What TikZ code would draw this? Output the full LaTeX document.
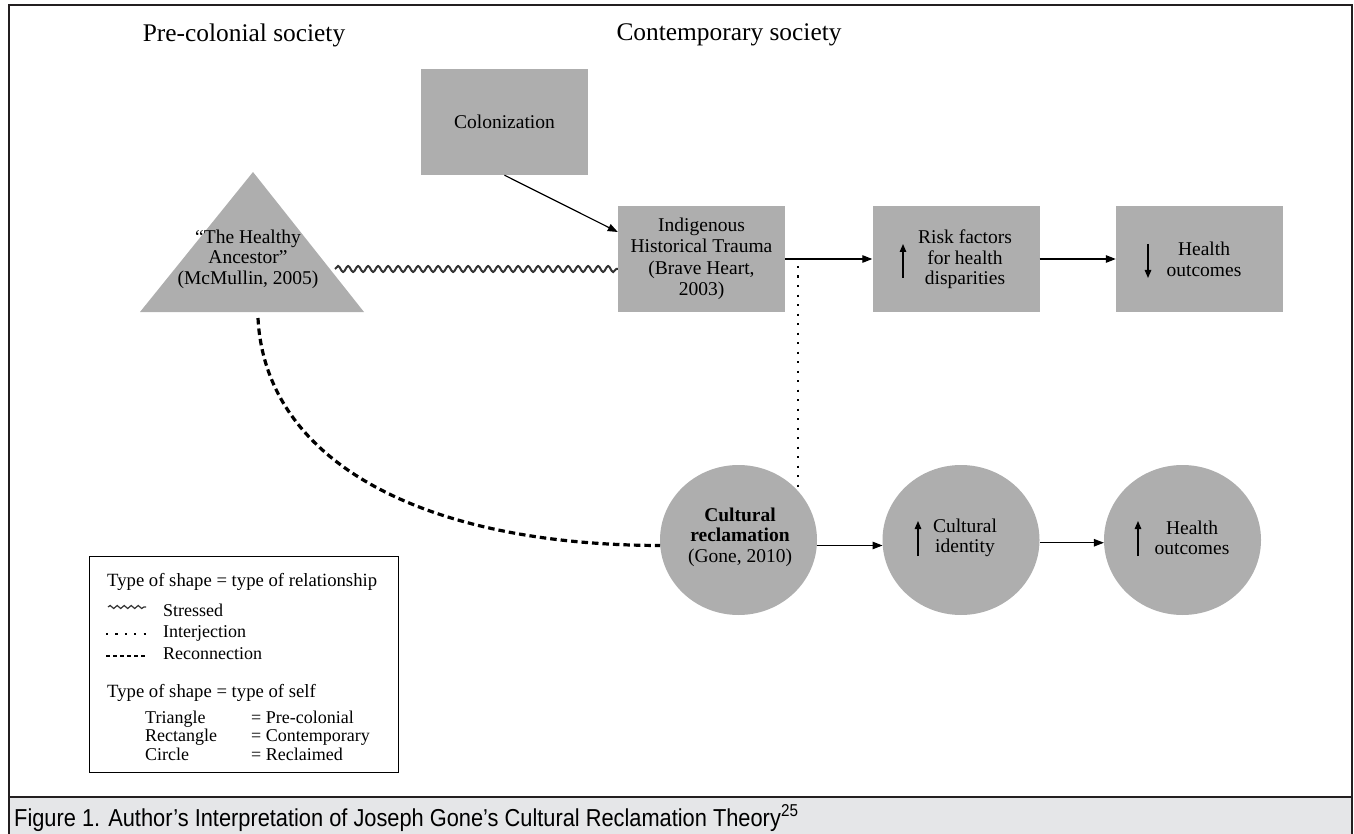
\documentclass[tikz,border=0pt]{standalone}
\usepackage{fontspec}
\setmainfont{Liberation Serif}
\newfontfamily\capfont[FakeStretch=0.89]{Liberation Sans}
\usetikzlibrary{arrows.meta,decorations.pathmorphing,calc,shapes.geometric}
\definecolor{shapegray}{RGB}{174,174,174}
\definecolor{framecol}{RGB}{35,31,32}
\definecolor{capbg}{RGB}{229,230,232}
\begin{document}
\begin{tikzpicture}[x=1pt,y=-1pt,
  box/.style={fill=shapegray, minimum width=167pt, minimum height=106pt, inner sep=0pt,
    font=\fontsize{19.5}{21.5}\selectfont, align=center},
  oval/.style={ellipse, fill=shapegray, minimum width=157pt, minimum height=150pt, inner sep=0pt},
  lbl/.style={font=\fontsize{19.5}{20.5}\selectfont, align=center, inner sep=0pt},
  head/.style={font=\fontsize{25.4}{28}\selectfont, inner sep=0pt},
  legt/.style={font=\fontsize{18.7}{20}\selectfont, inner sep=0pt, anchor=base west},
  lege/.style={font=\fontsize{18}{19}\selectfont, inner sep=0pt, anchor=base west},
  arr/.style={-{Triangle[length=10pt,width=7.5pt]}, line width=1.2pt},
  uparr/.style={-{Triangle[length=8pt,width=6.5pt]}, line width=1.2pt},
  wavy/.style={decorate, decoration={snake, segment length=10pt, amplitude=3pt}, line width=2pt, draw=black!80},
  dotline/.style={line width=2.2pt, dash pattern=on 2.2pt off 7.3pt},
  reconn/.style={line width=3.2pt, dash pattern=on 6.5pt off 4pt}
]
\useasboundingbox (0,0) rectangle (1354,834);
% frame and caption bar
\fill[capbg] (9,798) rectangle (1352,834);
\draw[framecol, line width=2.2pt] (9,840) -- (9,5) -- (1352,5) -- (1352,840);
\draw[framecol, line width=2.2pt] (9,797) -- (1352,797);
\node[anchor=base west, inner sep=0pt, font=\capfont\fontsize{24.5}{26}\selectfont] (cap) at (14,826)
  {Figure 1. Author’s Interpretation of Joseph Gone’s Cultural Reclamation Theory\textsuperscript{25}};

% headers
\node[head] (pre) at (244,35) {Pre-colonial society};
\node[head] (con) at (729,35) {Contemporary society};

% triangle
\fill[shapegray] (253,172) -- (364,312) -- (140,312) -- cycle;
\node[lbl] (tri) at (248,259) {“The Healthy\\Ancestor”\\(McMullin, 2005)};
\coordinate (trir) at (335,269);
\coordinate (trib) at (258,318);

% boxes
\node[box] (col) at (504.5,122) {Colonization};
\node[box] (ind) at (701.5,259) {Indigenous\\Historical Trauma\\(Brave Heart,\\2003)};
\node[box] (risk) at (956,259) {};
\node[lbl] (risktxt) at (965,259.5) {Risk factors\\for health\\disparities};
\node[box] (hl) at (1199.5,259) {};
\node[lbl] (hltxt) at (1204,259.5) {Health\\outcomes};
\coordinate (riskup0) at (903,278);
\coordinate (riskup1) at (903,244);
\draw[uparr] (riskup0) -- (riskup1);
\coordinate (hldn0) at (1148,244);
\coordinate (hldn1) at (1148,278);
\draw[uparr] (hldn0) -- (hldn1);

% circles
\node[oval] (rec) at (738.5,540) {};
\node[lbl] (rectxt) at (740,537) {\textbf{Cultural}\\\textbf{reclamation}\\(Gone, 2010)};
\node[oval] (cid) at (961,540) {};
\node[lbl] (cidtxt) at (965,538) {Cultural\\identity};
\node[oval] (ho) at (1182.5,540) {};
\node[lbl] (hotxt) at (1192,538) {Health\\outcomes};
\coordinate (cidup0) at (918,556);
\coordinate (cidup1) at (918,521);
\draw[uparr] (cidup0) -- (cidup1);
\coordinate (houp0) at (1138,556);
\coordinate (houp1) at (1138,521);
\draw[uparr] (houp0) -- (houp1);

% connectors
\draw[arr] (col.south) -- ($(ind.west)+(0,-27)$);
\draw[arr] (ind.east) -- (risk.west);
\draw[arr] (risk.east) -- (hl.west);
\draw[wavy] (trir) -- ($(ind.west)+(0,10)$);
\coordinate (dtop) at ($(rec.40 |- ind.east)+(0,7)$);
\draw[dotline] (dtop) -- (rec.40);
\draw[reconn] (trib) .. controls (265,460) and (420,545) .. (rec.184);
\draw[arr] (rec.-4) -- (cid.184);
\draw[arr] (cid.-2) -- (ho.182);

% legend
\draw[line width=1pt] (89,556) rectangle (398,772);
\node[legt] (lt1) at (107,586) {Type of shape = type of relationship};
\coordinate (lw0) at (108,607); \coordinate (lw1) at (146,607);
\draw[decorate, decoration={snake, segment length=7pt, amplitude=1.5pt}, line width=1.2pt, draw=black!80] (lw0) -- (lw1);
\node[lege] (l1) at (163,616) {Stressed};
\coordinate (ld0) at (106,634); \coordinate (ld1) at (152,634);
\draw[line width=2.2pt, dash pattern=on 2.2pt off 7.2pt] (ld0) -- (ld1);
\node[lege] (l2) at (163,637) {Interjection};
\coordinate (lr0) at (106,656); \coordinate (lr1) at (147,656);
\draw[line width=2.6pt, dash pattern=on 4pt off 3pt] (lr0) -- (lr1);
\node[lege] (l3) at (163,659) {Reconnection};
\node[legt] (lt2) at (107,697) {Type of shape = type of self};
\node[lege] (s1) at (145,723) {Triangle};
\node[lege] (s2) at (145,741) {Rectangle};
\node[lege] (s3) at (145,760) {Circle};
\node[lege] (e1) at (251,723) {= Pre-colonial};
\node[lege] (e2) at (251,741) {= Contemporary};
\node[lege] (e3) at (251,760) {= Reclaimed};
\end{tikzpicture}
\end{document}
